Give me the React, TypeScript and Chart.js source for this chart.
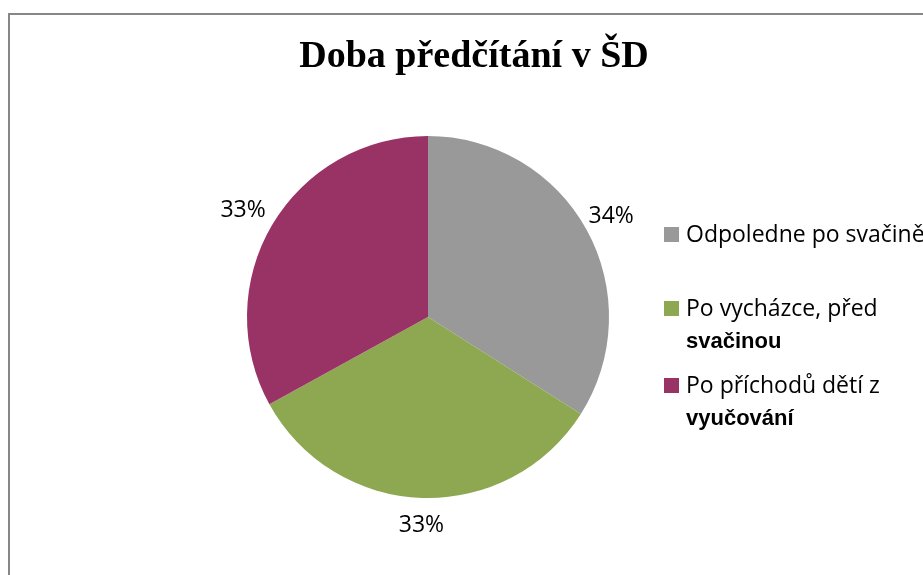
import React, { useEffect, useRef } from "react";
import { Chart, registerables } from "chart.js";

Chart.register(...registerables);

const title = "Doba předčítání v ŠD";
const categories = ["Odpoledne po svačině", "Po vycházce, před svačinou", "Po příchodů dětí z vyučování"];
const values = [34, 33, 33];
const colors = ["#999999", "#8DA850", "#993366"];
// legend text lines: [regular line, bold line]
const legendRegular = ["Odpoledne po svačině", "Po vycházce, před", "Po příchodů dětí z"];
const legendBold = ["", "svačinou", "vyučování"];

const decorPlugin = {
  id: "decor",
  afterDraw(chart: any) {
    const ctx = chart.ctx as CanvasRenderingContext2D;
    ctx.save();
    // frame
    ctx.strokeStyle = "#878787";
    ctx.lineWidth = 2;
    ctx.beginPath();
    ctx.moveTo(9, 600);
    ctx.lineTo(9, 14);
    ctx.lineTo(940, 14);
    ctx.stroke();

    // title
    ctx.fillStyle = "#000";
    ctx.textAlign = "center";
    ctx.textBaseline = "middle";
    ctx.font = "bold 38px 'Liberation Serif'";
    ctx.fillText(title, 474, 57);

    // percentage labels
    const meta = chart.getDatasetMeta(0);
    const total = values.reduce((a, b) => a + b, 0);
    ctx.font = "23px 'Open Sans'";
    meta.data.forEach((arc: any, i: number) => {
      const mid = (arc.startAngle + arc.endAngle) / 2;
      const d = arc.outerRadius + 28;
      let x = arc.x + Math.cos(mid) * d;
      const y = arc.y + Math.sin(mid) * d;
      if (i === 2) x -= 5;
      ctx.fillText(Math.round((values[i] / total) * 100) + "%", x, y);
    });

    // legend
    const rowsY = [235, 309, 386];
    ctx.textAlign = "left";
    rowsY.forEach((y, i) => {
      ctx.fillStyle = colors[i];
      ctx.fillRect(664, y - 8, 15, 15);
      ctx.fillStyle = "#000";
      ctx.font = "23px 'Open Sans'";
      ctx.fillText(legendRegular[i], 686, y);
      if (legendBold[i]) {
        ctx.font = "bold 22px 'Liberation Sans'";
        ctx.fillText(legendBold[i], 686, y + 33);
      }
    });
    ctx.restore();
  },
};

export default function App() {
  const ref = useRef<HTMLCanvasElement>(null);
  useEffect(() => {
    const chart = new Chart(ref.current!, {
      type: "pie",
      data: {
        labels: categories,
        datasets: [
          {
            data: values,
            backgroundColor: colors,
            borderWidth: 0,
          },
        ],
      },
      options: {
        animation: false,
        responsive: false,
        layout: { padding: { left: 247, right: 314, top: 136, bottom: 77 } },
        plugins: {
          legend: { display: false },
          title: { display: false },
          tooltip: { enabled: false },
        },
      },
      plugins: [decorPlugin],
    });
    return () => chart.destroy();
  }, []);
  return (
    <div style={{ position: "fixed", left: 0, top: 0, width: 923, height: 575, background: "#fff" }}>
      <canvas ref={ref} width={923} height={575} style={{ display: "block" }} />
    </div>
  );
}
